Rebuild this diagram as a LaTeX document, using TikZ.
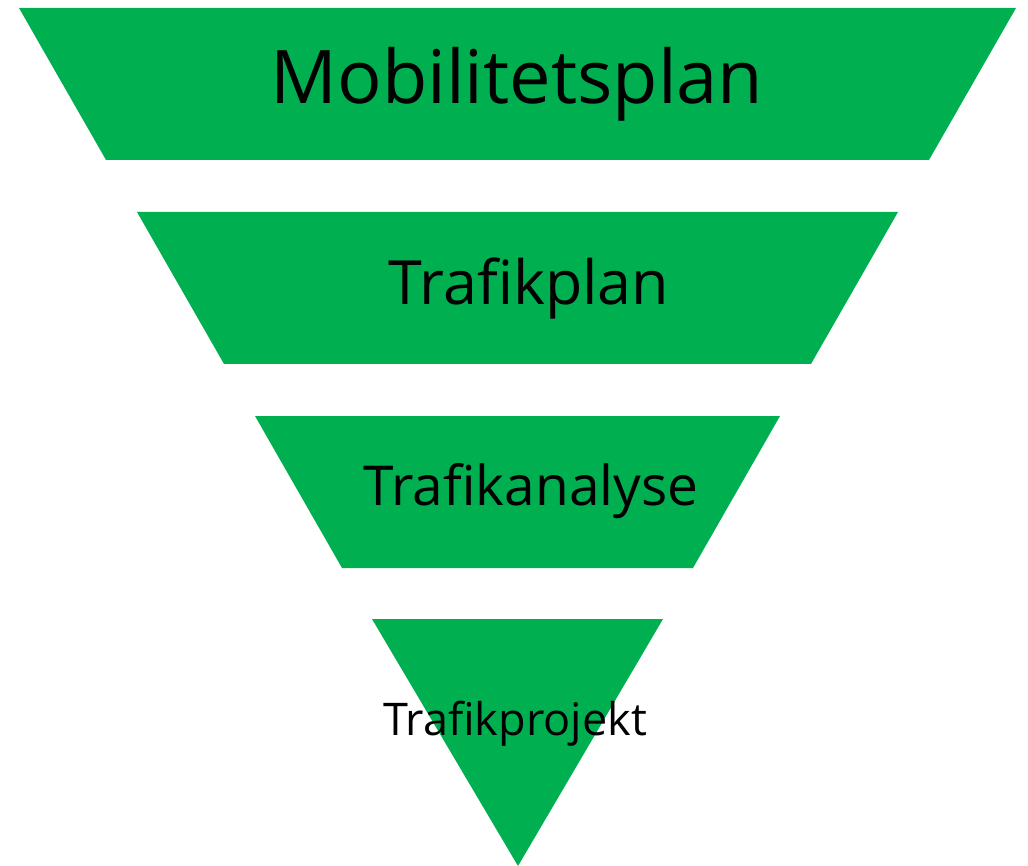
\documentclass[tikz,border=0pt]{standalone}
\usepackage{fontspec}
\setmainfont{Open Sans}
\usepackage{tikz}
\usetikzlibrary{positioning,calc}

\definecolor{officegreen}{HTML}{00B050}

\tikzset{
  level/.style={fill=officegreen},
  label/.style={anchor=base, inner sep=0pt, text=black}
}

\begin{document}
\begin{tikzpicture}[x=1pt,y=-1pt]
          \useasboundingbox (0,0) rectangle (1028,866);
          % funnel levels, top to bottom
          \fill[level] (19,8) -- (1016,8) -- (929,160) -- (106,160) -- cycle;
          \fill[level] (137,212) -- (898,212) -- (811,364) -- (224,364) -- cycle;
          \fill[level] (255,416) -- (780,416) -- (693,568) -- (342,568) -- cycle;
          \fill[level] (372,619) -- (663,619) -- (518,866) -- cycle;
          % level labels
          \node[label] (mobil) at (517,104) {\fontsize{74}{80}\selectfont Mobilitetsplan};
          \node[label] (plan) at (529,305) {\fontsize{61}{68}\selectfont Trafikplan};
          \node[label] (analyse) at (531,505) {\fontsize{55}{62}\selectfont Trafikanalyse};
          \node[label] (projekt) at (515,735) {\fontsize{45}{52}\selectfont Trafikprojekt};
        \end{tikzpicture}
\end{document}
